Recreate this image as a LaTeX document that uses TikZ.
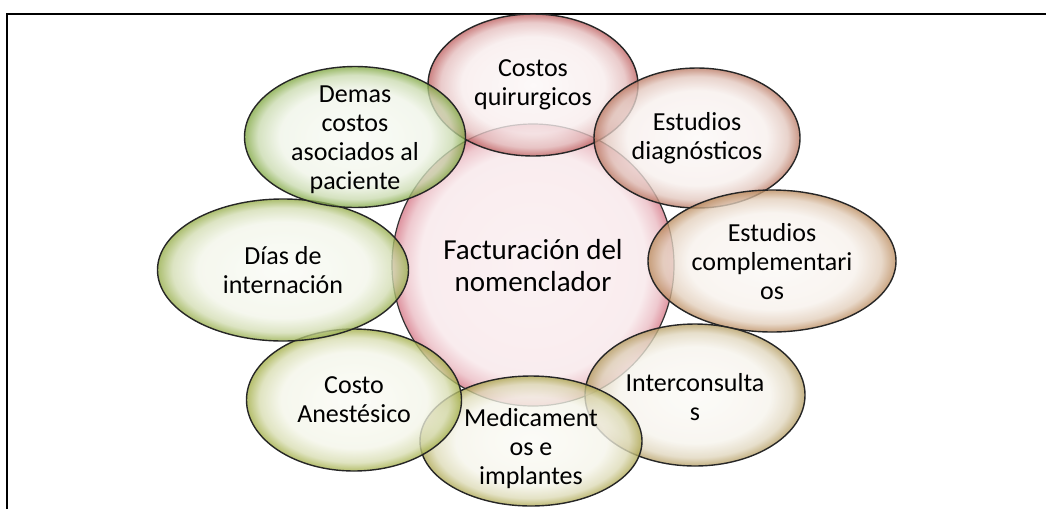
\documentclass[tikz,border=0pt]{standalone}
\usepackage{fontspec}
\setmainfont{Carlito}
\usepackage{tikz}
\usetikzlibrary{shapes,calc}
\usetikzlibrary{shapes.geometric}

\colorlet{bubblerim}{red}
\pgfdeclareradialshading[bubblerim]{bubble}{\pgfpoint{0bp}{0bp}}{color(0bp)=(bubblerim!5!white); color(17bp)=(bubblerim!12!white); color(22bp)=(bubblerim!42!white); color(25bp)=(bubblerim); color(50bp)=(bubblerim)}
\pgfdeclareradialshading[bubblerim]{disc}{\pgfpoint{0bp}{0bp}}{color(0bp)=(bubblerim!10!white); color(20bp)=(bubblerim!14!white); color(23bp)=(bubblerim!40!white); color(25bp)=(bubblerim!80!white); color(50bp)=(bubblerim!80!white)}

\definecolor{factrim}{RGB}{214,120,135}
\definecolor{quirrim}{RGB}{190,95,95}
\definecolor{diagrim}{RGB}{186,120,98}
\definecolor{complrim}{RGB}{186,138,92}
\definecolor{interrim}{RGB}{180,156,96}
\definecolor{medicrim}{RGB}{172,166,78}
\definecolor{anestrim}{RGB}{160,172,66}
\definecolor{diasrim}{RGB}{148,172,70}
\definecolor{demasrim}{RGB}{126,166,62}

\tikzset{
  rim/.code={\colorlet{bubblerim}{#1}},
  bubble/.style={ellipse, draw=black!85, line width=1.4pt, shading=bubble, fill opacity=0.78, inner sep=0pt},
  lbl/.style={align=center, font=\fontsize{26}{29}\selectfont, inner sep=0pt},
}

\begin{document}
\begin{tikzpicture}[x=1pt, y=-1pt]
\useasboundingbox (0,0) rectangle (1046,509);
\draw[line width=2.5pt] (7,509) -- (7,14) -- (1046,14);

% centro
\node[circle, minimum size=282pt, inner sep=0pt, draw=black!80, line width=1.2pt, shading=disc, rim=factrim] (fact) at (533,265) {};

% satelites
\node[bubble, rim=quirrim, minimum width=210pt, minimum height=142pt] (quir) at (533,85) {};
\node[bubble, rim=diagrim, minimum width=206pt, minimum height=140pt] (diag) at (697,138) {};
\node[bubble, rim=complrim, minimum width=248pt, minimum height=142pt] (compl) at (772,261) {};
\node[bubble, rim=interrim, minimum width=220pt, minimum height=142pt] (inter) at (695,395) {};
\node[bubble, rim=medicrim, minimum width=222pt, minimum height=130pt] (medic) at (531,441) {};
\node[bubble, rim=anestrim, minimum width=215pt, minimum height=142pt] (anest) at (354,400) {};
\node[bubble, rim=diasrim, minimum width=251pt, minimum height=142pt] (dias) at (283,270) {};
\node[bubble, rim=demasrim, minimum width=221pt, minimum height=141pt] (demas) at (355,137) {};

% textos
\node[lbl, font=\fontsize{29}{32}\selectfont] (fact-t) at (533,266) {Facturación del\\nomenclador};
\node[lbl] (quir-t) at (quir) {Costos\\quirurgicos};
\node[lbl] (diag-t) at (diag) {Estudios\\diagnósticos};
\node[lbl] (compl-t) at (772,262) {Estudios\\complementari\\os};
\node[lbl] (inter-t) at (695,397) {Interconsulta\\s};
\node[lbl] (medic-t) at (531,449) {Medicament\\os e\\implantes};
\node[lbl] (anest-t) at (anest) {Costo\\Anestésico};
\node[lbl] (dias-t) at (dias) {Días de\\internación};
\node[lbl] (demas-t) at (355,140) {Demas\\costos\\asociados al\\paciente};
\end{tikzpicture}
\end{document}
